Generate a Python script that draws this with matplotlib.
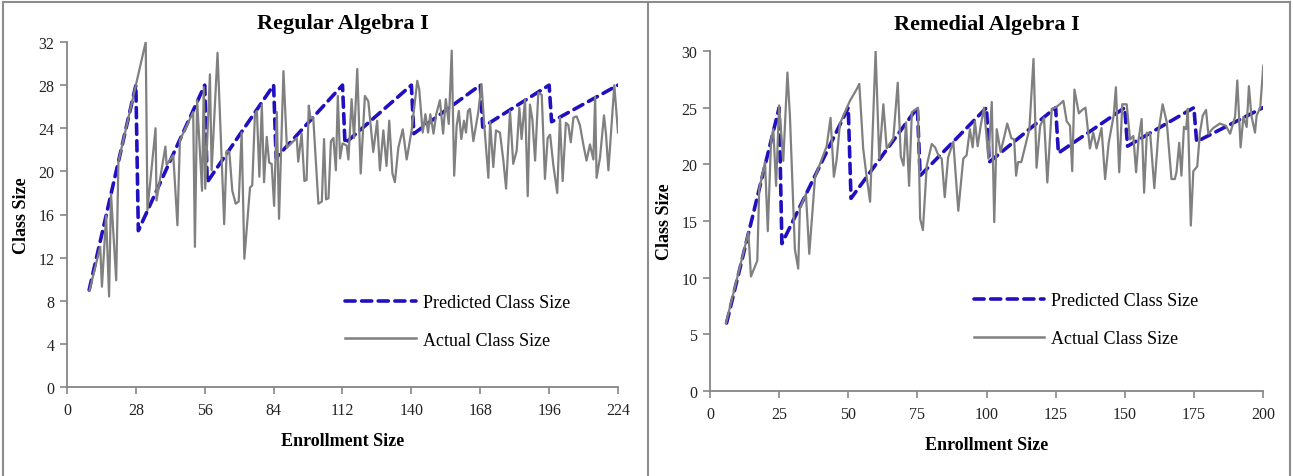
import matplotlib
matplotlib.use("Agg")
import matplotlib.pyplot as plt
from matplotlib.lines import Line2D

# ---------------- Data ----------------
# Regular Algebra I
reg_pred_x = [9, 28, 29, 56, 57, 84, 85, 112, 113, 140, 141, 168, 169, 196, 197, 224]
reg_pred_y = [9, 28, 14.5, 28, 19.0, 28, 21.25, 28, 22.6, 28, 23.5, 28, 24.1, 28, 24.6, 28]

reg_act_x = [9.2, 13.5, 14.2, 15.9, 17.1, 17.9, 20.0, 20.9, 32.0, 32.7, 36.0, 36.4, 40.0, 40.5,
             43.2, 44.9, 45.9, 51.3, 52.0, 52.9, 54.9, 55.6, 56.2, 58.1, 58.8, 61.2, 63.9, 64.9,
             66.0, 67.2, 68.6, 69.8, 71.0, 72.1, 74.4, 75.3, 76.4, 77.2, 78.2, 79.2, 80.1, 81.2,
             82.2, 83.2, 84.2, 85.3, 86.2, 88.0, 89.4, 93.4, 94.0, 95.4, 96.5, 97.4, 98.3, 99.0,
             100.1, 102.2, 103.6, 104.5, 105.3, 106.3, 107.3, 108.3, 109.3, 110.1, 111.0, 112.0,
             113.7, 114.4, 115.7, 116.7, 118.0, 119.4, 121.1, 122.5, 124.5, 126.1, 127.2, 128.6,
             129.9, 131.0, 132.3, 133.3, 134.7, 136.5, 138.1, 140.1, 142.4, 143.2, 144.6, 145.7,
             146.8, 147.7, 149.0, 150.1, 151.6, 152.9, 154.0, 155.2, 156.4, 157.4, 158.4, 159.3,
             160.3, 161.4, 162.2, 163.0, 163.8, 165.2, 167.2, 168.5, 169.6, 171.3, 172.0, 173.3,
             174.4, 176.0, 177.4, 178.5, 180.1, 181.4, 182.8, 183.9, 184.8, 186.2, 187.3, 188.2,
             189.2, 190.3, 191.6, 193.0, 194.3, 195.4, 196.4, 197.7, 199.3, 200.4, 201.5, 202.8,
             203.8, 204.8, 205.9, 207.2, 208.5, 209.9, 211.2, 212.6, 214.0, 214.7, 215.3, 216.7,
             218.3, 219.1, 220.1, 221.3, 222.5, 224.0]
reg_act_y = [9.0, 13.0, 9.3, 15.9, 8.4, 17.9, 9.9, 20.9, 32.0, 16.4, 24.0, 17.3, 22.3, 20.6,
             21.5, 15.0, 22.9, 25.5, 13.0, 26.6, 18.2, 27.8, 18.4, 29.0, 20.1, 31.0, 15.1, 21.9,
             21.8, 18.2, 17.0, 17.2, 23.6, 11.9, 18.5, 18.7, 25.3, 25.6, 19.5, 26.2, 19.0, 23.2,
             20.8, 20.7, 16.8, 25.5, 15.6, 29.3, 22.2, 23.1, 20.9, 23.5, 19.1, 19.2, 26.1, 24.9,
             25.0, 17.0, 17.2, 23.0, 17.4, 17.5, 22.8, 23.1, 20.1, 27.0, 21.2, 22.6,
             22.4, 21.1, 26.7, 23.1, 29.5, 19.8, 27.0, 26.5, 21.8, 24.7, 20.1, 23.8,
             20.5, 24.7, 19.8, 19.0, 22.2, 23.9, 21.1, 23.8, 28.4, 27.6, 23.6, 25.3,
             23.6, 25.3, 23.5, 25.3, 26.6, 23.5, 26.7, 24.4, 31.2, 19.6, 24.2, 25.6,
             23.0, 24.7, 23.6, 25.6, 25.8, 22.8, 25.5, 28.1, 24.4, 19.4, 24.6, 20.4,
             23.8, 23.6, 21.0, 18.4, 25.6, 20.7, 21.9, 25.9, 23.0, 26.7, 17.7, 26.2,
             24.8, 21.0, 27.3, 27.1, 19.3, 23.1, 23.4, 20.6, 18.0, 25.0, 19.1, 24.5,
             24.3, 22.7, 25.0, 25.1, 24.3, 22.5, 21.0, 22.5, 21.1, 26.9, 19.4, 21.3,
             25.2, 23.5, 20.1, 24.1, 28.0, 23.6]

# Remedial Algebra I
rem_pred_x = [6, 25, 26, 50, 51, 75, 76, 100, 101, 125, 126, 150, 151, 175, 176, 200]
rem_pred_y = [6, 25, 13.0, 25, 17.0, 25, 19.0, 25, 20.2, 25, 21.0, 25, 21.6, 25, 22.0, 25]

rem_act_x = [5.8, 13.9, 14.8, 17.1, 17.8, 19.9, 20.9, 22.1, 22.9, 23.9, 25.0, 26.5, 28.0,
             28.9, 30.7, 31.9, 32.5, 34.7, 35.9, 38.0, 42.2, 43.6, 44.8, 45.8, 47.0, 50.6,
             53.0, 54.0, 55.4, 56.6, 57.9, 59.9, 61.2, 62.7, 63.9, 66.3, 67.9, 69.0, 70.0,
             70.9, 72.0, 73.0, 75.2, 76.0, 77.0, 78.4, 80.2, 81.4, 82.6, 83.8, 84.9, 86.1,
             88.0, 89.8, 91.6, 92.8, 94.0, 95.0, 95.8, 96.8, 97.9, 99.1, 100.7, 101.9, 102.8,
             103.7, 105.1, 106.3, 107.5, 109.0, 110.0, 110.7, 111.4, 112.6, 115.5, 117.0,
             118.1, 119.4, 120.8, 122.0, 123.6, 124.8, 126.0, 127.8, 129.0, 130.2, 131.0,
             131.8, 133.4, 134.6, 135.8, 137.4, 138.6, 139.8, 141.6, 142.9, 144.2, 146.0,
             146.8, 148.0, 149.1, 150.7, 151.9, 153.1, 154.1, 155.0, 156.1, 157.0, 158.0,
             159.2, 160.7, 162.2, 163.7, 165.2, 166.9, 168.1, 168.7, 169.7, 170.5, 171.4,
             172.2, 172.8, 173.9, 174.8, 176.2, 177.2, 178.2, 179.4, 180.2, 182.0, 184.4,
             186.6, 188.1, 189.9, 190.7, 191.9, 192.9, 194.1, 194.9, 195.8, 197.1, 197.7,
             199.0, 200.1]
rem_act_y = [6.0, 14.0, 10.1, 11.5, 17.8, 20.2, 14.1, 22.2, 23.1, 18.1, 25.2, 20.3, 28.1,
             24.3, 12.5, 10.8, 16.1, 17.4, 12.1, 18.9, 21.6, 24.1, 18.9, 20.4, 23.6, 25.6,
             26.6, 27.1, 21.4, 19.0, 16.7, 30.0, 20.5, 25.3, 21.4, 22.3, 27.2, 20.7, 19.9,
             23.7, 18.1, 24.6, 25.0, 15.2, 14.2, 19.9, 21.8, 21.5, 20.8, 20.5, 17.1, 20.6,
             22.0, 15.9, 20.5, 20.8, 23.1, 21.5, 23.8, 21.6, 23.4, 25.0, 20.5, 25.5, 14.9,
             23.1, 21.1, 22.3, 23.6, 22.3, 22.2, 19.0, 20.2, 20.2, 23.1, 29.3, 19.7, 23.4,
             24.1, 18.4, 24.9, 25.0, 25.2, 25.6, 23.8, 23.4, 19.4, 26.6, 24.5, 24.8, 25.0,
             21.4, 22.8, 21.4, 23.2, 18.7, 21.9, 24.3, 26.8, 19.3, 25.3, 25.3, 22.2, 22.5,
             19.3, 22.2, 24.0, 17.5, 22.8, 22.7, 17.9, 22.9, 25.3, 23.7, 18.7, 18.7, 19.3,
             21.9, 19.0, 23.3, 23.1, 24.9, 14.6, 19.4, 19.8, 22.8, 24.3, 24.8, 22.7, 23.2,
             23.6, 23.4, 22.7, 24.2, 27.4, 21.5, 24.2, 23.3, 26.9, 24.3, 22.8, 24.3, 25.0,
             28.7]

pred_label = "Predicted Class Size"
act_label = "Actual Class Size"

# ---------------- Style ----------------
plt.rcParams['font.family'] = ['Liberation Serif', 'DejaVu Serif']
PRED_C = '#2010C0'
ACT_C = '#808080'
AXIS_C = '#868686'
DASH = (0, (2.8, 1.8))

fig = plt.figure(figsize=(12.93, 4.77), dpi=100)

def style_axes(ax, xmax, xstep, ymax, ystep):
    ax.set_xlim(0, xmax)
    ax.set_ylim(0, ymax)
    ax.set_xticks(list(range(0, xmax + 1, xstep)))
    ax.set_yticks(list(range(0, ymax + 1, ystep)))
    for s in ['top', 'right']:
        ax.spines[s].set_visible(False)
    for s in ['left', 'bottom']:
        ax.spines[s].set_color(AXIS_C)
        ax.spines[s].set_linewidth(1.3)
    ax.tick_params(axis='both', colors=AXIS_C, length=5, width=1.2, labelsize=11.5,
                   labelcolor='#222222', direction='out')
    ax.tick_params(axis='x', pad=6)
    ax.tick_params(axis='y', pad=4)


def draw_panel(ax, title, px, py, ax_x, ay, xmax, xstep, ymax, ystep, leg_anchor, title_pad):
    ax.plot(px, py, color=PRED_C, lw=2.6, linestyle=DASH, dash_capstyle='round', zorder=2)
    ax.plot(ax_x, ay, color=ACT_C, lw=1.6, zorder=3)
    style_axes(ax, xmax, xstep, ymax, ystep)
    ax.set_title(title, fontsize=16, fontweight='bold', pad=title_pad)
    ax.set_xlabel('Enrollment Size', fontsize=13, fontweight='bold', labelpad=10)
    ax.set_ylabel('Class Size', fontsize=13, fontweight='bold', labelpad=6)
    h1 = Line2D([], [], color=PRED_C, lw=2.6, linestyle=DASH, dash_capstyle='round')
    h2 = Line2D([], [], color=ACT_C, lw=1.8)
    ax.legend([h1, h2], [pred_label, act_label], loc='upper left', bbox_to_anchor=leg_anchor,
              frameon=False, fontsize=13, handlelength=3.9, handletextpad=0.4,
              labelspacing=1.15, borderpad=0, borderaxespad=0)


ax1 = fig.add_axes([67 / 1293, 1 - 388 / 477, 551 / 1293, 345 / 477])
draw_panel(ax1, 'Regular Algebra I', reg_pred_x, reg_pred_y, reg_act_x, reg_act_y,
           224, 28, 32, 4, (0.505, 0.27), 10)

ax2 = fig.add_axes([710 / 1293, 1 - 392 / 477, 553 / 1293, 340 / 477])
draw_panel(ax2, 'Remedial Algebra I', rem_pred_x, rem_pred_y, rem_act_x, rem_act_y,
           200, 25, 30, 5, (0.477, 0.29), 16)

# panel borders
BC = '#8c8c8c'
for xs, ys in [([3 / 1293, 3 / 1293], [0, 1 - 3 / 477]),
               ([3 / 1293, 1290 / 1293], [1 - 3 / 477, 1 - 3 / 477]),
               ([648 / 1293, 648 / 1293], [0, 1 - 3 / 477]),
               ([1290 / 1293, 1290 / 1293], [0, 1 - 3 / 477])]:
    fig.add_artist(Line2D(xs, ys, transform=fig.transFigure, color=BC, lw=1.5))

fig.savefig('out.png', dpi=100)
